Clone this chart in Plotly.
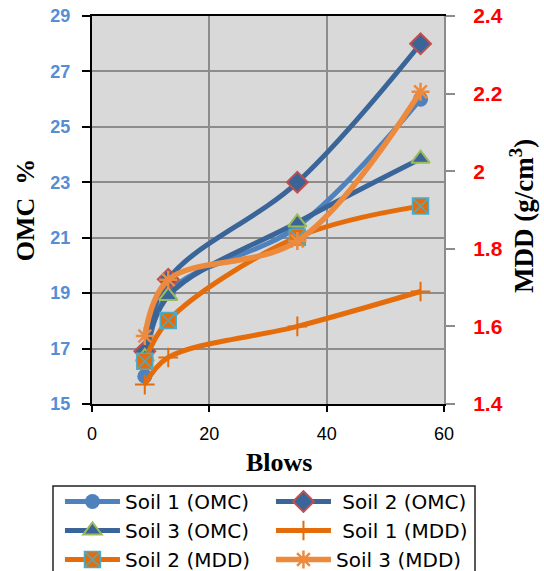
import plotly.graph_objects as go

blows = [9, 13, 35, 56]
omc_soil1 = [16.0, 19.0, 21.4, 26.0]
omc_soil2 = [16.9, 19.5, 23.0, 28.0]
omc_soil3 = [16.7, 18.9, 21.55, 23.85]
mdd_soil1 = [1.45, 1.52, 1.60, 1.69]
mdd_soil2 = [1.51, 1.615, 1.83, 1.91]
mdd_soil3 = [1.575, 1.72, 1.82, 2.205]

names = ["Soil 1 (OMC)", "\u00a0Soil 2 (OMC)", "Soil 3 (OMC)",
         "\u00a0Soil 1 (MDD)", "Soil 2 (MDD)", "Soil 3 (MDD)"]

fig = go.Figure()

fig.add_trace(go.Scatter(
    x=blows, y=omc_soil1, name=names[0], mode="lines+markers",
    line=dict(color="#4f81bd", width=5, shape="spline"),
    marker=dict(symbol="circle", size=15, color="#4f81bd"),
))
fig.add_trace(go.Scatter(
    x=blows, y=omc_soil2, name=names[1], mode="lines+markers",
    line=dict(color="#3a6599", width=5, shape="spline"),
    marker=dict(symbol="diamond", size=16, color="#3a6599",
                line=dict(color="#c0504d", width=2)),
))
fig.add_trace(go.Scatter(
    x=blows, y=omc_soil3, name=names[2], mode="lines+markers",
    line=dict(color="#3a6599", width=5, shape="spline"),
    marker=dict(symbol="triangle-up", size=16, color="#3a6599",
                line=dict(color="#9bbb59", width=2)),
))
fig.add_trace(go.Scatter(
    x=blows, y=mdd_soil1, name=names[3], mode="lines+markers", yaxis="y2",
    line=dict(color="#e46c0a", width=5, shape="spline"),
    marker=dict(symbol="cross-thin-open", size=14, color="#e46c0a",
                line=dict(color="#e46c0a", width=2)),
))
fig.add_trace(go.Scatter(
    x=blows, y=mdd_soil2, name=names[4], mode="lines+markers", yaxis="y2",
    line=dict(color="#e46c0a", width=5, shape="spline"),
    marker=dict(symbol="square-x", size=16, color="#e46c0a",
                line=dict(color="#4bacc6", width=1.5)),
))
fig.add_trace(go.Scatter(
    x=blows, y=mdd_soil3, name=names[5], mode="lines+markers", yaxis="y2",
    line=dict(color="#ec8a3e", width=5.5, shape="spline"),
    marker=dict(symbol="asterisk-open", size=15, color="#ec8a3e",
                line=dict(color="#ec8a3e", width=2.5)),
))

fig.update_layout(
    width=544, height=571,
    margin=dict(l=92, r=100, t=16, b=167, autoexpand=False),
    paper_bgcolor="white",
    plot_bgcolor="#d9d9d9",
    showlegend=True,
    legend=dict(
        orientation="h", x=-0.091, y=-0.201, xanchor="left", yanchor="top",
        font=dict(family="DejaVu Sans", size=20, color="black"),
        borderwidth=0, bgcolor="rgba(0,0,0,0)",
        itemwidth=55, entrywidth=141,
        traceorder="normal",
    ),
    shapes=[dict(
        type="rect", xref="paper", yref="paper",
        x0=-0.1108, x1=1.0881, y0=-0.2113, y1=-0.46,
        line=dict(color="#222", width=1.5), fillcolor="white", layer="above",
    )],
    annotations=[
        dict(
            text="Blows", xref="paper", yref="paper", x=0.531, y=-0.1495,
            xanchor="center", yanchor="middle", showarrow=False,
            font=dict(family="Liberation Serif", size=26, color="black", weight="bold"),
        ),
        dict(
            text="MDD (g/cm<sup>3</sup>)", xref="paper", yref="paper",
            x=1.2216, y=0.4845, textangle=-90,
            xanchor="center", yanchor="middle", showarrow=False,
            font=dict(family="Liberation Serif", size=27, color="black", weight="bold"),
        ),
    ],
    xaxis=dict(
        range=[0, 60], dtick=20, tick0=0,
        showgrid=True, gridcolor="#8c8c8c", gridwidth=1.5,
        showline=True, linecolor="black", linewidth=2, mirror=True,
        ticks="outside", ticklen=6, tickcolor="black", tickwidth=1.5,
        ticklabelstandoff=6,
        tickfont=dict(family="Liberation Sans", size=18, color="black"),
        zeroline=False,
    ),
    yaxis=dict(
        range=[15, 29], dtick=2, tick0=15,
        showgrid=True, gridcolor="#8c8c8c", gridwidth=1.5,
        showline=True, linecolor="black", linewidth=2,
        ticks="outside", ticklen=8, tickcolor="black", tickwidth=2,
        ticklabelstandoff=8,
        tickfont=dict(family="Liberation Sans", size=18, color="#558ed5", weight="bold"),
        title=dict(text="OMC  %", font=dict(family="Liberation Serif", size=26, color="black", weight="bold"), standoff=8),
        zeroline=False,
    ),
    yaxis2=dict(
        range=[1.4, 2.4], dtick=0.2, tick0=1.4,
        overlaying="y", side="right",
        showgrid=False,
        showline=True, linecolor="#8c8c8c", linewidth=2,
        ticks="outside", ticklen=9, tickcolor="#8c8c8c", tickwidth=2,
        ticklabelstandoff=14,
        tickfont=dict(family="Liberation Sans", size=21, color="#ff0000", weight="bold"),
        zeroline=False,
    ),
)

fig.write_html("out.html")
